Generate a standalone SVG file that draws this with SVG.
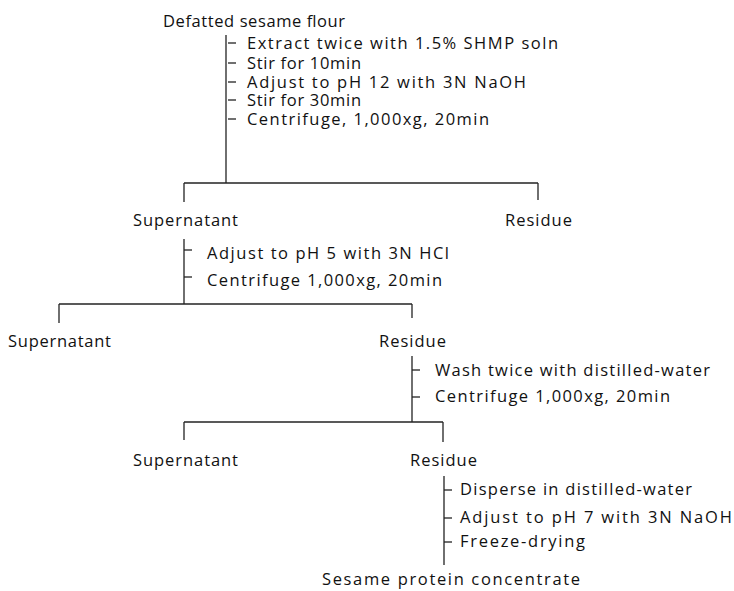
<svg xmlns="http://www.w3.org/2000/svg" width="734" height="591" viewBox="0 0 734 591">
<style>
text{font-family:"Open Sans","Liberation Sans",sans-serif;font-size:16.5px;fill:#111}
.m{text-anchor:middle}
#connectors line{stroke:#222;stroke-width:1.3}
</style>
<rect width="734" height="591" fill="#fff"/>
<g id="connectors">
<line x1="226" y1="35" x2="226" y2="183"/>
<line x1="228" y1="43" x2="236" y2="43"/>
<line x1="228" y1="63" x2="236" y2="63"/>
<line x1="228" y1="82" x2="236" y2="82"/>
<line x1="228" y1="100" x2="236" y2="100"/>
<line x1="228" y1="119" x2="236" y2="119"/>
<line x1="184" y1="183" x2="538" y2="183"/>
<line x1="184" y1="183" x2="184" y2="202"/>
<line x1="538" y1="183" x2="538" y2="200"/>
<line x1="184" y1="239" x2="184" y2="304"/>
<line x1="184" y1="250" x2="192" y2="250"/>
<line x1="184" y1="277" x2="192" y2="277"/>
<line x1="59" y1="304" x2="412" y2="304"/>
<line x1="59" y1="304" x2="59" y2="323"/>
<line x1="412" y1="304" x2="412" y2="318"/>
<line x1="412" y1="356" x2="412" y2="422"/>
<line x1="412" y1="370" x2="420" y2="370"/>
<line x1="412" y1="397" x2="420" y2="397"/>
<line x1="184" y1="422" x2="443" y2="422"/>
<line x1="184" y1="422" x2="184" y2="440"/>
<line x1="443" y1="422" x2="443" y2="442"/>
<line x1="444" y1="476" x2="444" y2="565"/>
<line x1="444" y1="490" x2="452" y2="490"/>
<line x1="444" y1="518" x2="452" y2="518"/>
<line x1="444" y1="542" x2="452" y2="542"/>
</g>
<g id="n-flour"><text x="163" y="27" textLength="182" lengthAdjust="spacing">Defatted sesame flour</text></g>
<g id="n-steps1">
<text x="247" y="49" textLength="311" lengthAdjust="spacing">Extract twice with 1.5% SHMP soln</text>
<text x="247" y="69" textLength="114" lengthAdjust="spacing">Stir for 10min</text>
<text x="247" y="88" textLength="279" lengthAdjust="spacing">Adjust to pH 12 with 3N NaOH</text>
<text x="247" y="106" textLength="114" lengthAdjust="spacing">Stir for 30min</text>
<text x="247" y="125" textLength="242" lengthAdjust="spacing">Centrifuge, 1,000xg, 20min</text>
</g>
<g id="n-super1"><text x="133" y="226" textLength="105" lengthAdjust="spacing">Supernatant</text></g>
<g id="n-res1"><text x="505" y="226" textLength="67" lengthAdjust="spacing">Residue</text></g>
<g id="n-steps2">
<text x="207" y="259" textLength="242" lengthAdjust="spacing">Adjust to pH 5 with 3N HCl</text>
<text x="207" y="286" textLength="235" lengthAdjust="spacing">Centrifuge 1,000xg, 20min</text>
</g>
<g id="n-super2"><text x="8" y="347" textLength="103" lengthAdjust="spacing">Supernatant</text></g>
<g id="n-res2"><text x="379" y="347" textLength="67" lengthAdjust="spacing">Residue</text></g>
<g id="n-steps3">
<text x="435" y="376" textLength="275" lengthAdjust="spacing">Wash twice with distilled-water</text>
<text x="435" y="402" textLength="235" lengthAdjust="spacing">Centrifuge 1,000xg, 20min</text>
</g>
<g id="n-super3"><text x="133" y="466" textLength="105" lengthAdjust="spacing">Supernatant</text></g>
<g id="n-res3"><text x="410" y="466" textLength="67" lengthAdjust="spacing">Residue</text></g>
<g id="n-steps4">
<text x="460" y="495" textLength="232" lengthAdjust="spacing">Disperse in distilled-water</text>
<text x="460" y="523" textLength="272" lengthAdjust="spacing">Adjust to pH 7 with 3N NaOH</text>
<text x="460" y="547" textLength="125" lengthAdjust="spacing">Freeze-drying</text>
</g>
<g id="n-product"><text x="322" y="585" textLength="258" lengthAdjust="spacing">Sesame protein concentrate</text></g>
</svg>
